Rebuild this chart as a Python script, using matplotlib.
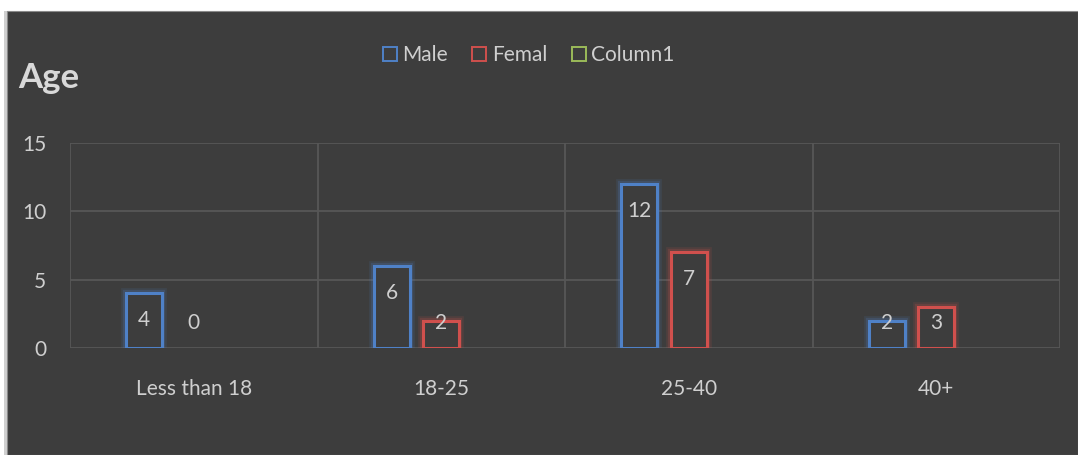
import numpy as np
import matplotlib
matplotlib.use('Agg')
import matplotlib.pyplot as plt
import matplotlib.patheffects as pe
from matplotlib.patches import Rectangle
from matplotlib.lines import Line2D

plt.rcParams['font.family'] = ['Lato', 'DejaVu Sans']

categories = ['Less than 18', '18-25', '25-40', '40+']
male = [4, 6, 12, 2]
femal = [0, 2, 7, 3]
column1 = [np.nan, np.nan, np.nan, np.nan]
series_names = ['Male', 'Femal', 'Column1']
yticks = [0, 5, 10, 15]

bg = '#3d3d3d'
grid_col = '#575757'
text_col = '#cfcfcf'
colors = ['#4f81c7', '#d0504d', '#9bbb59']
fs = 15

W, H = 1078, 455
fig = plt.figure(figsize=(W / 100, H / 100), dpi=100, facecolor='white')
fig.patches.append(Rectangle((4 / W, 0), 3 / W, 1 - 11 / H, transform=fig.transFigure,
                             facecolor='#d0d0d0', edgecolor='none', zorder=0))
fig.patches.append(Rectangle((7 / W, 0), 1 - 7 / W, 1 - 11 / H, transform=fig.transFigure,
                             facecolor=bg, edgecolor='#8a8a8a', lw=0.8, zorder=0))

ax = fig.add_axes([70 / W, (H - 348) / H, (1060 - 70) / W, (348 - 143) / H])
ax.set_zorder(2)
ax.set_facecolor(bg)
ax.patch.set_alpha(0)

x = np.arange(len(categories))
width = 0.145
offsets = [-0.2, 0.0, 0.2]

for vals, off, col in zip([male, femal, column1], offsets, colors):
    bars = ax.bar(x + off, vals, width, facecolor=bg, edgecolor=col, lw=2.2, zorder=3)
    for b in bars:
        if not b.get_height():
            b.set_visible(False)
        b.set_path_effects([pe.Stroke(linewidth=7, foreground=col, alpha=0.12),
                            pe.Stroke(linewidth=4.5, foreground=col, alpha=0.2),
                            pe.Normal()])
    for xi, v in zip(x + off, vals):
        if np.isnan(v):
            continue
        ax.annotate(str(int(v)), (xi, max(v, 3.8)), xytext=(0, -27),
                    textcoords='offset pixels', ha='center', va='center',
                    color=text_col, fontsize=fs, zorder=5)

ax.set_xlim(-0.5, len(categories) - 0.5)
ax.set_ylim(0, 15)
ax.set_yticks(yticks)
ax.set_xticks(x)
ax.set_xticklabels(categories)
ax.set_xticks(np.arange(-0.5, len(categories), 1.0), minor=True)
ax.grid(axis='y', color=grid_col, lw=1.3, zorder=0)
ax.grid(axis='x', which='minor', color=grid_col, lw=1.3, zorder=0)
ax.grid(axis='x', which='major', visible=False)
for s in ax.spines.values():
    s.set_visible(False)
ax.tick_params(axis='both', which='both', length=0, colors=text_col, labelsize=fs)
ax.tick_params(axis='x', pad=22)
ax.tick_params(axis='y', pad=17)
for lab in ax.get_yticklabels():
    lab.set_horizontalalignment('right')

fig.text(18 / W, 1 - 78 / H, 'Age', color='#d9d9d9', fontsize=25, fontweight='bold',
         va='center', ha='left')

handles = [Line2D([], [], marker='s', ls='none', markerfacecolor='none',
                  markeredgecolor=c, markersize=10, markeredgewidth=1.4) for c in colors]
fig.legend(handles, series_names, loc='center', bbox_to_anchor=(527 / W, 1 - 55 / H),
           ncol=3, frameon=False, fontsize=fs, labelcolor=text_col,
           handletextpad=0.1, columnspacing=1.0, handlelength=1.0)

fig.savefig('out.png', dpi=100, facecolor=fig.get_facecolor())
